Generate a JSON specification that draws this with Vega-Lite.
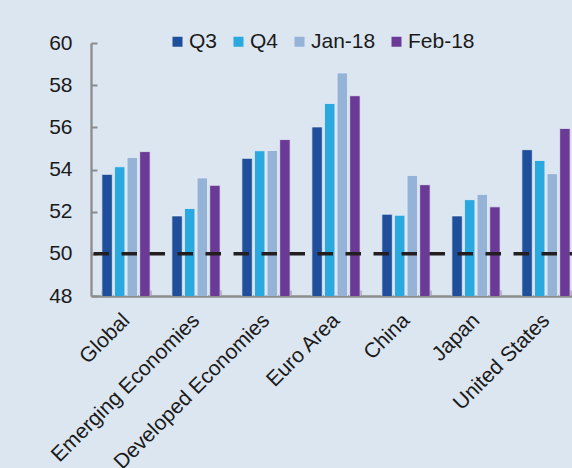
{
  "$schema": "https://vega.github.io/schema/vega-lite/v6.json",
  "autosize": "none",
  "padding": {"left": 91, "top": 43, "right": 0, "bottom": 172},
  "width": 490,
  "height": 253,
  "background": "#dce6f1",
  "config": {
    "view": {"stroke": null},
    "font": "Liberation Sans",
    "axis": {"labelFont": "Liberation Sans", "labelColor": "#1a1a1a", "labelFontSize": 21}
  },
  "datasets": {
    "pmi": [
      {"region": "Global", "period": "Q3", "value": 53.77},
      {"region": "Global", "period": "Q4", "value": 54.13},
      {"region": "Global", "period": "Jan-18", "value": 54.57},
      {"region": "Global", "period": "Feb-18", "value": 54.85},
      {"region": "Emerging Economies", "period": "Q3", "value": 51.8},
      {"region": "Emerging Economies", "period": "Q4", "value": 52.15},
      {"region": "Emerging Economies", "period": "Jan-18", "value": 53.6},
      {"region": "Emerging Economies", "period": "Feb-18", "value": 53.25},
      {"region": "Developed Economies", "period": "Q3", "value": 54.53},
      {"region": "Developed Economies", "period": "Q4", "value": 54.89},
      {"region": "Developed Economies", "period": "Jan-18", "value": 54.9},
      {"region": "Developed Economies", "period": "Feb-18", "value": 55.42},
      {"region": "Euro Area", "period": "Q3", "value": 56.02},
      {"region": "Euro Area", "period": "Q4", "value": 57.13},
      {"region": "Euro Area", "period": "Jan-18", "value": 58.58},
      {"region": "Euro Area", "period": "Feb-18", "value": 57.5},
      {"region": "China", "period": "Q3", "value": 51.88},
      {"region": "China", "period": "Q4", "value": 51.83},
      {"region": "China", "period": "Jan-18", "value": 53.72},
      {"region": "China", "period": "Feb-18", "value": 53.28},
      {"region": "Japan", "period": "Q3", "value": 51.8},
      {"region": "Japan", "period": "Q4", "value": 52.57},
      {"region": "Japan", "period": "Jan-18", "value": 52.82},
      {"region": "Japan", "period": "Feb-18", "value": 52.23},
      {"region": "United States", "period": "Q3", "value": 54.94},
      {"region": "United States", "period": "Q4", "value": 54.43},
      {"region": "United States", "period": "Jan-18", "value": 53.8},
      {"region": "United States", "period": "Feb-18", "value": 55.95}
    ],
    "ref": [{"level": 50}]
  },
  "layer": [
    {
      "data": {"name": "pmi"},
      "mark": {"type": "bar", "stroke": "#e4ecf6", "strokeWidth": 0.8, "clip": true},
      "encoding": {
        "x": {
          "field": "region", "type": "nominal", "sort": null,
          "scale": {"paddingInner": 0.31, "paddingOuter": 0.155},
          "axis": {
            "title": null, "labelAngle": -45, "labelAlign": "right", "labelBaseline": "middle",
            "labelPadding": 27, "labelLimit": 400, "tickBand": "extent", "tickSize": -6, "tickColor": "#8c8c8c",
            "tickWidth": 2, "domainColor": "#8c8c8c", "domainWidth": 2.3
          }
        },
        "xOffset": {
          "field": "period", "type": "nominal", "sort": ["Q3", "Q4", "Jan-18", "Feb-18"],
          "scale": {"paddingInner": 0.17, "paddingOuter": 0}
        },
        "y": {
          "field": "value", "type": "quantitative",
          "scale": {"domain": [48, 60], "zero": false, "nice": false},
          "axis": {
            "title": null, "values": [48, 50, 52, 54, 56, 58, 60], "grid": false,
            "tickSize": -6, "tickColor": "#8c8c8c", "tickWidth": 2,
            "domainColor": "#8c8c8c", "domainWidth": 2.3, "labelPadding": 25
          }
        },
        "color": {
          "field": "period", "type": "nominal", "sort": ["Q3", "Q4", "Jan-18", "Feb-18"],
          "scale": {"domain": ["Q3", "Q4", "Jan-18", "Feb-18"], "range": ["#1f4f9b", "#29a9df", "#95b3d7", "#6b3a96"]},
          "legend": {
            "title": null, "orient": "none", "direction": "horizontal",
            "legendX": 76, "legendY": -12,
            "symbolType": "square", "symbolSize": 100, "symbolStrokeWidth": 0,
            "labelFontSize": 21, "labelFont": "Liberation Sans", "labelColor": "#1a1a1a",
            "labelOffset": 1, "columnPadding": 10
          }
        }
      }
    },
    {
      "data": {"name": "ref"},
      "mark": {"type": "rule", "color": "#231f20", "strokeWidth": 3.5, "strokeDash": [15.5, 12.5], "strokeDashOffset": 4},
      "encoding": {
        "y": {"field": "level", "type": "quantitative"}
      }
    }
  ]
}
